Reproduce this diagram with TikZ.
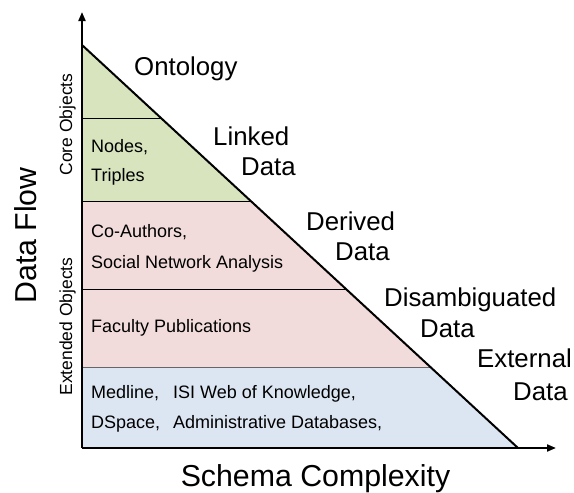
\documentclass[tikz,border=0pt]{standalone}
\usepackage{fontspec}
\setmainfont{Liberation Sans}
\usetikzlibrary{arrows.meta}
\definecolor{coregreen}{HTML}{D7E4BD}
\definecolor{extpink}{HTML}{F2DCDB}
\definecolor{extblue}{HTML}{DCE6F2}
\tikzset{
  axisline/.style={line width=2pt,-{Triangle[length=9pt,width=7pt]}},
  edgeline/.style={line width=2pt},
  sepline/.style={line width=0.8pt,black},
  smalltxt/.style={inner sep=0pt,anchor=base west,font=\fontsize{18}{20}\selectfont},
  midtxt/.style={inner sep=0pt,anchor=base west,font=\fontsize{25.8}{30}\selectfont},
  bigtxt/.style={inner sep=0pt,anchor=base,font=\fontsize{30.3}{34}\selectfont},
  sidetxt/.style={inner sep=0pt,anchor=base,rotate=90,font=\fontsize{17.5}{20}\selectfont},
}
\begin{document}
\begin{tikzpicture}[x=1pt,y=-1pt]
\useasboundingbox (0,0) rectangle (574,493);
\coordinate (top) at (82,45);
\coordinate (o) at (82,448);
\coordinate (br) at (518,448);
\coordinate (ytip) at (82,12);
\coordinate (xtip) at (556,448);
\coordinate (s1l) at (82,118); \coordinate (s1r) at (161,118);
\coordinate (s2l) at (82,201); \coordinate (s2r) at (251,201);
\coordinate (s3l) at (82,289); \coordinate (s3r) at (346,289);
\coordinate (s4l) at (82,367); \coordinate (s4r) at (430,367);
% fills
\fill[coregreen] (top) -- (s2r) -- (s2l) -- cycle;
\fill[extpink] (s2l) -- (s2r) -- (s4r) -- (s4l) -- cycle;
\fill[extblue] (s4l) -- (s4r) -- (br) -- (o) -- cycle;
% separators
\draw[sepline] (s1l) -- (s1r);
\draw[sepline] (s2l) -- (s2r);
\draw[sepline] (s3l) -- (s3r);
\draw[sepline,black!60] (s4l) -- (s4r);
% hypotenuse and axes
\draw[edgeline] (top) -- (br);
\draw[axisline] (o) -- (ytip);
\draw[axisline] (o) -- (xtip);
% inner texts
\node[smalltxt] (nodes) at (91,152) {Nodes,};
\node[smalltxt] (triples) at (91,181) {Triples};
\node[smalltxt] (coauth) at (91,237) {Co-Authors,};
\node[smalltxt] (sna) at (91,268) {Social Network Analysis};
\node[smalltxt] (fac) at (91,332) {Faculty Publications};
\node[smalltxt] (med) at (91,398) {Medline,};
\node[smalltxt] (isi) at (173,398) {ISI Web of Knowledge,};
\node[smalltxt] (dsp) at (91,428) {DSpace,};
\node[smalltxt] (adm) at (173,428) {Administrative Databases,};
% level labels
\node[midtxt] (onto) at (134,75) {Ontology};
\node[midtxt] (link1) at (213,145) {Linked};
\node[midtxt] (link2) at (241,175) {Data};
\node[midtxt] (der1) at (306,230) {Derived};
\node[midtxt] (der2) at (335,260) {Data};
\node[midtxt] (dis1) at (384,306) {Disambiguated};
\node[midtxt] (dis2) at (420,337) {Data};
\node[midtxt] (ext1) at (477,367) {External};
\node[midtxt] (ext2) at (513,400) {Data};
% axis labels
\node[bigtxt] (xlab) at (315.5,486) {Schema Complexity};
\node[bigtxt,rotate=90] (ylab) at (37,235.5) {Data Flow};
\node[sidetxt] (core) at (72,124.5) {Core Objects};
\node[sidetxt] (extobj) at (72,326.5) {Extended Objects};
\end{tikzpicture}
\end{document}
